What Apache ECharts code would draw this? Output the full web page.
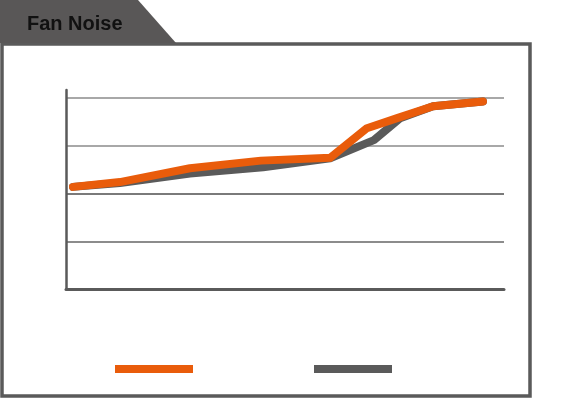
<!DOCTYPE html>
<html>
<head>
<meta charset="utf-8">
<style>
  html, body { margin: 0; padding: 0; background: #fff; }
  #chart { width: 577px; height: 399px; }
</style>
<script src="https://cdn.jsdelivr.net/npm/echarts@6/dist/echarts.min.js"></script>
</head>
<body>
<div id="chart"></div>
<script>
// data (x as position 0-100, y as grid units 0-4)
var seriesNames = ["Fan A", "Fan B"];
var orangeX = [1.6, 12.3, 28.3, 44.5, 60.3, 68.7, 75.6, 83.8, 95.2];
var orangeY = [2.14, 2.24, 2.53, 2.69, 2.75, 3.37, 3.58, 3.83, 3.93];
var grayX = [1.6, 12.3, 28.3, 45.0, 60.3, 70.3, 76.3, 83.8, 95.2];
var grayY = [2.14, 2.22, 2.42, 2.55, 2.74, 3.12, 3.58, 3.83, 3.93];

function pairs(xs, ys) {
  return xs.map(function (x, i) { return [x, ys[i]]; });
}

var myChart = echarts.init(document.getElementById("chart"));
var option = {
  animation: false,
  backgroundColor: "#fff",
  graphic: [
    {
      type: "rect",
      shape: { x: 2, y: 44, width: 528, height: 352 },
      style: { fill: "#fff", stroke: "#5a5a5a", lineWidth: 3.5 },
      z: -10
    },
    {
      type: "polygon",
      shape: { points: [[0, 0], [138, 0], [176, 43], [0, 43]] },
      style: { fill: "#595757" },
      z: -5
    },
    {
      type: "text",
      left: 27,
      top: 14,
      style: {
        text: "Fan Noise",
        fill: "#111",
        font: "bold 20px 'Liberation Sans', Arial, sans-serif"
      }
    }
  ],
  legend: {
    left: 115,
    top: 365,
    padding: 0,
    icon: "rect",
    itemWidth: 78,
    itemHeight: 8,
    itemGap: 121,
    formatter: function () { return ""; },
    data: seriesNames
  },
  grid: { left: 66, right: 73, top: 90, bottom: 110 },
  xAxis: {
    type: "value",
    min: 0,
    max: 100,
    axisLine: { show: true, lineStyle: { color: "#5a5a5a", width: 3 } },
    axisTick: { show: false },
    axisLabel: { show: false },
    splitLine: { show: false }
  },
  yAxis: {
    type: "value",
    min: 0,
    max: 4.17,
    interval: 1,
    axisLine: { show: true, lineStyle: { color: "#5a5a5a", width: 2.5 } },
    axisTick: { show: false },
    axisLabel: { show: false },
    splitLine: {
      show: true,
      showMaxLine: false,
      lineStyle: { color: ["#777", "#8c8c8c", "#7a7a7a", "#a8a8a8", "#a8a8a8"], width: 2 }
    }
  },
  series: [
    {
      name: seriesNames[0],
      type: "line",
      data: pairs(orangeX, orangeY),
      showSymbol: false,
      color: "#e95c0b",
      itemStyle: { color: "#e95c0b" },
      lineStyle: { color: "#e95c0b", width: 8, cap: "round", join: "round" },
      z: 3
    },
    {
      name: seriesNames[1],
      type: "line",
      data: pairs(grayX, grayY),
      showSymbol: false,
      color: "#5a5a5a",
      itemStyle: { color: "#5a5a5a" },
      lineStyle: { color: "#5a5a5a", width: 8, cap: "round", join: "round" },
      z: 2
    }
  ]
};
myChart.setOption(option);
</script>
</body>
</html>
